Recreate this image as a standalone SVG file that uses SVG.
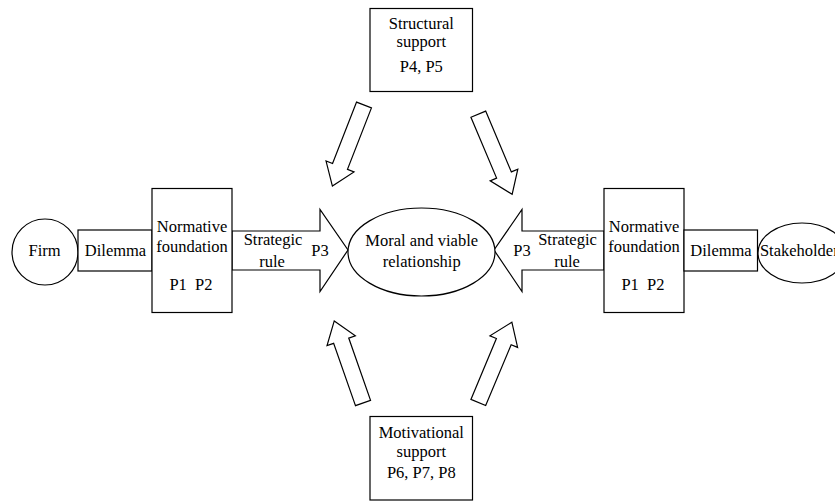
<svg xmlns="http://www.w3.org/2000/svg" xmlns:xlink="http://www.w3.org/1999/xlink" width="835" height="502" viewBox="0 0 835 502">
<style>
.s{fill:#fff;stroke:#000;stroke-width:1.2}
text{font-family:'Liberation Serif','DejaVu Serif',serif;font-size:16.5px;fill:#000;text-anchor:middle}
</style>
<defs>
<path id="ha" class="s" d="M0,-8 L66,-8 L66,-15 L87,0 L66,15 L66,8 L0,8 Z"/>
</defs>
<rect width="835" height="502" fill="#fff"/>
<g font-family="'Liberation Serif','DejaVu Serif',serif">
<g id="connectors">
<path id="arrow-left" class="s" d="M232,231 L320,231 L320,209.5 L348,250 L320,291.5 L320,270 L232,270 Z"/>
<path id="arrow-right" class="s" d="M604,231 L522,231 L522,209.5 L494,250 L522,291.5 L522,270 L604,270 Z"/>
<use xlink:href="#ha" transform="translate(364,105) rotate(111.3)"/>
<use xlink:href="#ha" transform="translate(478.3,114.2) rotate(67.1)"/>
<use xlink:href="#ha" transform="translate(363,403) rotate(-109.3)"/>
<use xlink:href="#ha" transform="translate(478.3,402.5) rotate(-67.3)"/>
<text x="273" y="245">Strategic</text>
<text x="272" y="266.5">rule</text>
<text x="320" y="256">P3</text>
<text x="567.5" y="245">Strategic</text>
<text x="567" y="266.5">rule</text>
<text x="522" y="256">P3</text>
</g>
<g id="firm">
<circle class="s" cx="45" cy="252" r="33"/>
<text x="44.5" y="256">Firm</text>
</g>
<g id="dilemma-left">
<rect class="s" x="78" y="230" width="74" height="41"/>
<text x="115.5" y="256">Dilemma</text>
</g>
<g id="normative-left">
<rect class="s" x="152" y="188.5" width="80" height="124"/>
<text x="192" y="232">Normative</text>
<text x="192" y="251.5">foundation</text>
<text x="191" y="290" xml:space="preserve">P1  P2</text>
</g>
<g id="relationship">
<ellipse class="s" cx="421.5" cy="252" rx="73.5" ry="44"/>
<text x="421.7" y="245.5">Moral and viable</text>
<text x="421.7" y="267">relationship</text>
</g>
<g id="normative-right">
<rect class="s" x="604" y="188.5" width="80" height="124"/>
<text x="644" y="232">Normative</text>
<text x="644" y="251.5">foundation</text>
<text x="643" y="290" xml:space="preserve">P1  P2</text>
</g>
<g id="dilemma-right">
<rect class="s" x="684" y="230" width="73.5" height="41"/>
<text x="721" y="256">Dilemma</text>
</g>
<g id="stakeholders">
<ellipse class="s" cx="802" cy="253" rx="44" ry="30"/>
<text x="802.5" y="256">Stakeholders</text>
</g>
<g id="structural">
<rect class="s" x="370" y="8.5" width="102.5" height="83"/>
<text x="421.3" y="29">Structural</text>
<text x="421.3" y="46.5">support</text>
<text x="421.3" y="72">P4, P5</text>
</g>
<g id="motivational">
<rect class="s" x="370" y="416.5" width="102.5" height="83.5"/>
<text x="421.3" y="438">Motivational</text>
<text x="421.3" y="456.5">support</text>
<text x="421.3" y="478">P6, P7, P8</text>
</g>
</g>
</svg>
